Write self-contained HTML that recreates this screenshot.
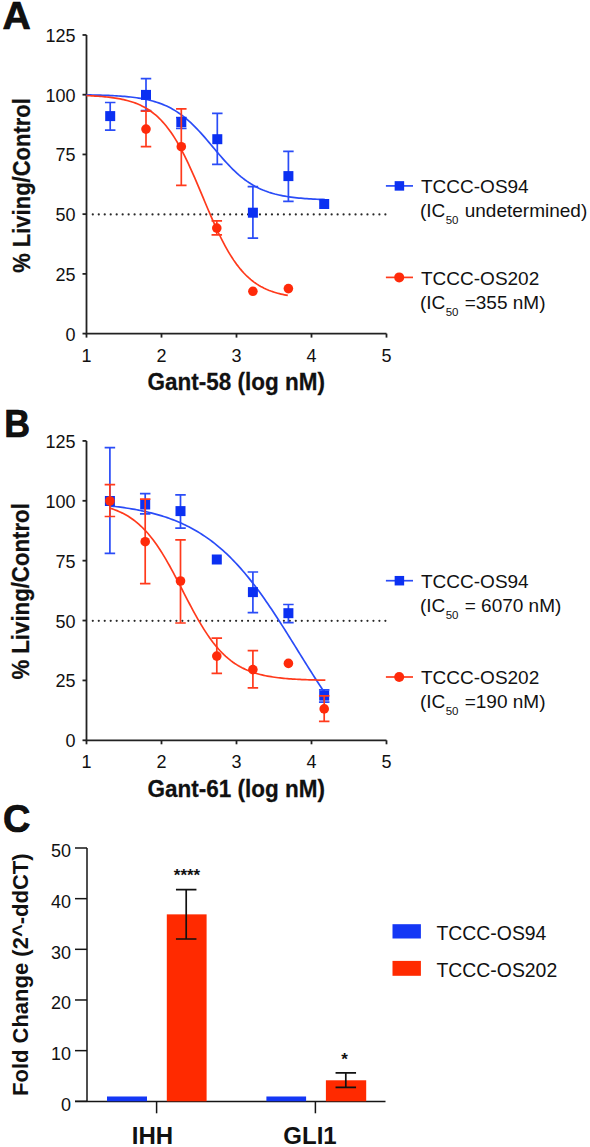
<!DOCTYPE html>
<html><head><meta charset="utf-8"><style>
html,body{margin:0;padding:0;background:#fff;}
svg{display:block;}
text{font-family:"Liberation Sans",sans-serif;fill:#111;}
.tk{font-size:18px;}
.tkc{font-size:18px;}
.ttl{font-size:22px;font-weight:bold;stroke:#111;stroke-width:0.25px;}
.ttlx{font-size:22.5px;font-weight:bold;stroke:#111;stroke-width:0.25px;}
.ttlc{font-size:24px;font-weight:bold;}
.ttlc2{font-size:22px;font-weight:bold;}
.pl{font-size:38px;font-weight:bold;stroke:#000;stroke-width:0.7px;}
.lg{font-size:19px;}
.sub{font-size:11.5px;}
.ast{font-size:17px;font-weight:bold;}
</style></head><body>
<svg width="590" height="1147" viewBox="0 0 590 1147">
<rect width="590" height="1147" fill="#fff"/>
<text transform="translate(2.6 29) scale(1.03 1)" class="pl">A</text>
<path d="M86.5 35.0V333.6H386.5" stroke="#222" stroke-width="1.8" fill="none"/>
<path d="M82.5 333.60H86.5" stroke="#222" stroke-width="1.8"/>
<text x="75.5" y="340.6" text-anchor="end" class="tk">0</text>
<path d="M82.5 273.88H86.5" stroke="#222" stroke-width="1.8"/>
<text x="75.5" y="280.9" text-anchor="end" class="tk">25</text>
<path d="M82.5 214.15H86.5" stroke="#222" stroke-width="1.8"/>
<text x="75.5" y="221.2" text-anchor="end" class="tk">50</text>
<path d="M82.5 154.43H86.5" stroke="#222" stroke-width="1.8"/>
<text x="75.5" y="161.4" text-anchor="end" class="tk">75</text>
<path d="M82.5 94.70H86.5" stroke="#222" stroke-width="1.8"/>
<text x="75.5" y="101.7" text-anchor="end" class="tk">100</text>
<path d="M82.5 34.98H86.5" stroke="#222" stroke-width="1.8"/>
<text x="75.5" y="42.0" text-anchor="end" class="tk">125</text>
<path d="M86.50 333.6V337.6" stroke="#222" stroke-width="1.8"/>
<text x="86.50" y="361.7" text-anchor="middle" class="tk">1</text>
<path d="M161.50 333.6V337.6" stroke="#222" stroke-width="1.8"/>
<text x="161.50" y="361.7" text-anchor="middle" class="tk">2</text>
<path d="M236.50 333.6V337.6" stroke="#222" stroke-width="1.8"/>
<text x="236.50" y="361.7" text-anchor="middle" class="tk">3</text>
<path d="M311.50 333.6V337.6" stroke="#222" stroke-width="1.8"/>
<text x="311.50" y="361.7" text-anchor="middle" class="tk">4</text>
<path d="M386.50 333.6V337.6" stroke="#222" stroke-width="1.8"/>
<text x="386.50" y="361.7" text-anchor="middle" class="tk">5</text>
<text transform="translate(236.3 389.5) scale(1 1.06)" text-anchor="middle" class="ttlx">Gant-58 (log nM)</text>
<line x1="92.8" y1="214.45" x2="386" y2="214.45" stroke="#2a2a2a" stroke-width="2.2" stroke-linecap="round" stroke-dasharray="0.01 5.961"/>
<text transform="translate(29.9 185.5) rotate(-90) scale(1 1.05)" text-anchor="middle" class="ttl">% Living/Control</text>
<polyline points="86.50,94.87 88.50,94.91 90.51,94.94 92.51,94.98 94.52,95.03 96.52,95.07 98.53,95.12 100.53,95.18 102.53,95.24 104.54,95.31 106.54,95.38 108.55,95.46 110.55,95.55 112.55,95.65 114.56,95.75 116.56,95.87 118.57,95.99 120.57,96.13 122.58,96.28 124.58,96.44 126.58,96.62 128.59,96.81 130.59,97.02 132.60,97.25 134.60,97.50 136.61,97.77 138.61,98.07 140.61,98.39 142.62,98.74 144.62,99.12 146.63,99.54 148.63,99.99 150.63,100.47 152.64,101.00 154.64,101.57 156.65,102.19 158.65,102.86 160.66,103.58 162.66,104.35 164.66,105.19 166.67,106.08 168.67,107.05 170.68,108.08 172.68,109.18 174.68,110.36 176.69,111.61 178.69,112.95 180.70,114.36 182.70,115.86 184.71,117.44 186.71,119.10 188.71,120.84 190.72,122.67 192.72,124.57 194.73,126.55 196.73,128.60 198.74,130.72 200.74,132.90 202.74,135.13 204.75,137.41 206.75,139.73 208.76,142.08 210.76,144.45 212.76,146.84 214.77,149.22 216.77,151.60 218.78,153.96 220.78,156.29 222.79,158.59 224.79,160.85 226.79,163.05 228.80,165.20 230.80,167.28 232.81,169.29 234.81,171.23 236.82,173.09 238.82,174.87 240.82,176.57 242.83,178.18 244.83,179.71 246.84,181.16 248.84,182.53 250.84,183.82 252.85,185.03 254.85,186.17 256.86,187.23 258.86,188.23 260.87,189.15 262.87,190.02 264.87,190.82 266.88,191.56 268.88,192.25 270.89,192.89 272.89,193.48 274.89,194.03 276.90,194.53 278.90,195.00 280.91,195.43 282.91,195.82 284.92,196.19 286.92,196.52 288.92,196.83 290.93,197.11 292.93,197.37 294.94,197.61 296.94,197.83 298.95,198.03 300.95,198.22 302.95,198.38 304.96,198.54 306.96,198.68 308.97,198.81 310.97,198.93 312.97,199.04 314.98,199.14 316.98,199.23 318.99,199.31 320.99,199.39 323.00,199.46 325.00,199.52" fill="none" stroke="#2a4cf7" stroke-width="1.7"/>
<path d="M110.20 102.50V130.20M104.95 102.50H115.45M104.95 130.20H115.45" stroke="#2a4cf7" stroke-width="1.7" fill="none"/>
<rect x="105.20" y="111.10" width="10" height="10" fill="#0b30f2"/>
<path d="M146.00 78.70V110.70M140.75 78.70H151.25M140.75 110.70H151.25" stroke="#2a4cf7" stroke-width="1.7" fill="none"/>
<rect x="141.00" y="89.90" width="10" height="10" fill="#0b30f2"/>
<path d="M181.30 117.50V128.30M176.05 117.50H186.55M176.05 128.30H186.55" stroke="#2a4cf7" stroke-width="1.7" fill="none"/>
<rect x="176.30" y="117.00" width="10" height="10" fill="#0b30f2"/>
<path d="M217.30 113.40V164.40M212.05 113.40H222.55M212.05 164.40H222.55" stroke="#2a4cf7" stroke-width="1.7" fill="none"/>
<rect x="212.30" y="134.20" width="10" height="10" fill="#0b30f2"/>
<path d="M252.90 186.60V238.20M247.65 186.60H258.15M247.65 238.20H258.15" stroke="#2a4cf7" stroke-width="1.7" fill="none"/>
<rect x="247.90" y="207.70" width="10" height="10" fill="#0b30f2"/>
<path d="M288.40 151.40V201.30M283.15 151.40H293.65M283.15 201.30H293.65" stroke="#2a4cf7" stroke-width="1.7" fill="none"/>
<rect x="283.40" y="171.10" width="10" height="10" fill="#0b30f2"/>
<rect x="319.20" y="199.00" width="10" height="10" fill="#0b30f2"/>
<polyline points="86.50,95.60 88.19,95.68 89.88,95.76 91.57,95.84 93.27,95.93 94.96,96.03 96.65,96.14 98.34,96.25 100.03,96.38 101.72,96.52 103.42,96.66 105.11,96.82 106.80,96.99 108.49,97.18 110.18,97.37 111.87,97.59 113.57,97.82 115.26,98.07 116.95,98.35 118.64,98.64 120.33,98.95 122.02,99.30 123.72,99.66 125.41,100.06 127.10,100.49 128.79,100.95 130.48,101.44 132.17,101.98 133.86,102.55 135.56,103.17 137.25,103.83 138.94,104.55 140.63,105.31 142.32,106.14 144.01,107.02 145.71,107.97 147.40,108.98 149.09,110.07 150.78,111.23 152.47,112.47 154.16,113.79 155.86,115.20 157.55,116.71 159.24,118.31 160.93,120.01 162.62,121.82 164.31,123.73 166.01,125.76 167.70,127.90 169.39,130.15 171.08,132.53 172.77,135.03 174.46,137.65 176.15,140.39 177.85,143.26 179.54,146.25 181.23,149.36 182.92,152.58 184.61,155.92 186.30,159.36 188.00,162.91 189.69,166.55 191.38,170.28 193.07,174.08 194.76,177.95 196.45,181.88 198.15,185.86 199.84,189.87 201.53,193.90 203.22,197.94 204.91,201.98 206.60,206.01 208.29,210.00 209.99,213.96 211.68,217.86 213.37,221.70 215.06,225.47 216.75,229.16 218.44,232.75 220.14,236.25 221.83,239.64 223.52,242.93 225.21,246.09 226.90,249.14 228.59,252.07 230.29,254.88 231.98,257.56 233.67,260.13 235.36,262.56 237.05,264.88 238.74,267.08 240.44,269.17 242.13,271.14 243.82,273.00 245.51,274.75 247.20,276.41 248.89,277.96 250.58,279.42 252.28,280.79 253.97,282.07 255.66,283.27 257.35,284.40 259.04,285.45 260.73,286.43 262.43,287.34 264.12,288.20 265.81,288.99 267.50,289.73 269.19,290.42 270.88,291.06 272.58,291.66 274.27,292.21 275.96,292.73 277.65,293.21 279.34,293.65 281.03,294.06 282.73,294.44 284.42,294.80 286.11,295.13 287.80,295.43" fill="none" stroke="#ff3a1c" stroke-width="1.7"/>
<path d="M146.00 111.20V146.70M140.75 111.20H151.25M140.75 146.70H151.25" stroke="#ff3a1c" stroke-width="1.7" fill="none"/>
<circle cx="146.00" cy="129.10" r="4.8" fill="#ff2a0a"/>
<path d="M181.30 108.80V185.30M176.05 108.80H186.55M176.05 185.30H186.55" stroke="#ff3a1c" stroke-width="1.7" fill="none"/>
<circle cx="181.30" cy="146.70" r="4.8" fill="#ff2a0a"/>
<path d="M216.80 220.80V234.90M211.55 220.80H222.05M211.55 234.90H222.05" stroke="#ff3a1c" stroke-width="1.7" fill="none"/>
<circle cx="216.80" cy="228.10" r="4.8" fill="#ff2a0a"/>
<circle cx="252.90" cy="291.30" r="4.8" fill="#ff2a0a"/>
<circle cx="288.40" cy="288.60" r="4.8" fill="#ff2a0a"/>
<path d="M385.9 185.90H413" stroke="#2a4cf7" stroke-width="1.7"/>
<rect x="394.65" y="181.15" width="9.5" height="9.5" fill="#0b30f2"/>
<text x="421" y="192.7" class="lg">TCCC-OS94</text>
<text x="420" y="216.8" class="lg">(IC<tspan class="sub" dy="6.8" dx="0.3">50</tspan><tspan dy="-6.8" dx="1"> undetermined)</tspan></text>
<path d="M385.9 277.40H413" stroke="#ff3a1c" stroke-width="1.7"/>
<circle cx="399.20" cy="277.40" r="5" fill="#ff2a0a"/>
<text x="421" y="284.7" class="lg">TCCC-OS202</text>
<text x="420" y="308.9" class="lg">(IC<tspan class="sub" dy="6.8" dx="0.3">50</tspan><tspan dy="-6.8" dx="1"> =355 nM)</tspan></text>
<text transform="translate(4.3 437.3) scale(0.94 1)" class="pl">B</text>
<path d="M86.5 440.9V740.3H386.5" stroke="#222" stroke-width="1.8" fill="none"/>
<path d="M82.5 740.30H86.5" stroke="#222" stroke-width="1.8"/>
<text x="75.5" y="747.3" text-anchor="end" class="tk">0</text>
<path d="M82.5 680.42H86.5" stroke="#222" stroke-width="1.8"/>
<text x="75.5" y="687.4" text-anchor="end" class="tk">25</text>
<path d="M82.5 620.55H86.5" stroke="#222" stroke-width="1.8"/>
<text x="75.5" y="627.5" text-anchor="end" class="tk">50</text>
<path d="M82.5 560.67H86.5" stroke="#222" stroke-width="1.8"/>
<text x="75.5" y="567.7" text-anchor="end" class="tk">75</text>
<path d="M82.5 500.80H86.5" stroke="#222" stroke-width="1.8"/>
<text x="75.5" y="507.8" text-anchor="end" class="tk">100</text>
<path d="M82.5 440.92H86.5" stroke="#222" stroke-width="1.8"/>
<text x="75.5" y="447.9" text-anchor="end" class="tk">125</text>
<path d="M86.50 740.3V744.3" stroke="#222" stroke-width="1.8"/>
<text x="86.50" y="768.1" text-anchor="middle" class="tk">1</text>
<path d="M161.50 740.3V744.3" stroke="#222" stroke-width="1.8"/>
<text x="161.50" y="768.1" text-anchor="middle" class="tk">2</text>
<path d="M236.50 740.3V744.3" stroke="#222" stroke-width="1.8"/>
<text x="236.50" y="768.1" text-anchor="middle" class="tk">3</text>
<path d="M311.50 740.3V744.3" stroke="#222" stroke-width="1.8"/>
<text x="311.50" y="768.1" text-anchor="middle" class="tk">4</text>
<path d="M386.50 740.3V744.3" stroke="#222" stroke-width="1.8"/>
<text x="386.50" y="768.1" text-anchor="middle" class="tk">5</text>
<text transform="translate(236.3 796.9) scale(1 1.06)" text-anchor="middle" class="ttlx">Gant-61 (log nM)</text>
<line x1="92.8" y1="620.85" x2="386" y2="620.85" stroke="#2a2a2a" stroke-width="2.2" stroke-linecap="round" stroke-dasharray="0.01 5.961"/>
<text transform="translate(29.4 591.4) rotate(-90) scale(1.01 1.05)" text-anchor="middle" class="ttl">% Living/Control</text>
<polyline points="109.75,505.90 111.55,506.10 113.34,506.30 115.14,506.51 116.93,506.73 118.73,506.96 120.53,507.20 122.32,507.45 124.12,507.70 125.92,507.97 127.71,508.24 129.51,508.53 131.30,508.82 133.10,509.13 134.90,509.45 136.69,509.78 138.49,510.12 140.29,510.48 142.08,510.85 143.88,511.23 145.67,511.63 147.47,512.04 149.27,512.46 151.06,512.91 152.86,513.36 154.66,513.84 156.45,514.33 158.25,514.84 160.04,515.37 161.84,515.91 163.64,516.48 165.43,517.06 167.23,517.67 169.03,518.30 170.82,518.95 172.62,519.62 174.41,520.32 176.21,521.03 178.01,521.78 179.80,522.55 181.60,523.34 183.39,524.16 185.19,525.01 186.99,525.89 188.78,526.80 190.58,527.73 192.38,528.70 194.17,529.70 195.97,530.72 197.76,531.79 199.56,532.88 201.36,534.01 203.15,535.17 204.95,536.37 206.75,537.60 208.54,538.87 210.34,540.18 212.13,541.53 213.93,542.91 215.73,544.34 217.52,545.80 219.32,547.31 221.12,548.85 222.91,550.44 224.71,552.06 226.50,553.73 228.30,555.45 230.10,557.20 231.89,559.00 233.69,560.84 235.49,562.72 237.28,564.65 239.08,566.62 240.87,568.64 242.67,570.69 244.47,572.79 246.26,574.94 248.06,577.12 249.86,579.35 251.65,581.62 253.45,583.92 255.24,586.27 257.04,588.66 258.84,591.09 260.63,593.55 262.43,596.05 264.22,598.59 266.02,601.16 267.82,603.76 269.61,606.40 271.41,609.06 273.21,611.75 275.00,614.47 276.80,617.22 278.59,619.99 280.39,622.78 282.19,625.59 283.98,628.42 285.78,631.26 287.58,634.12 289.37,636.99 291.17,639.87 292.96,642.76 294.76,645.65 296.56,648.54 298.35,651.44 300.15,654.33 301.95,657.23 303.74,660.11 305.54,662.99 307.33,665.86 309.13,668.72 310.93,671.56 312.72,674.39 314.52,677.19 316.32,679.98 318.11,682.75 319.91,685.49 321.70,688.21 323.50,690.90" fill="none" stroke="#2a4cf7" stroke-width="1.7"/>
<path d="M109.90 447.60V553.40M104.65 447.60H115.15M104.65 553.40H115.15" stroke="#2a4cf7" stroke-width="1.7" fill="none"/>
<rect x="104.90" y="496.00" width="10" height="10" fill="#0b30f2"/>
<path d="M145.20 493.70V513.80M139.95 493.70H150.45M139.95 513.80H150.45" stroke="#2a4cf7" stroke-width="1.7" fill="none"/>
<rect x="140.20" y="499.50" width="10" height="10" fill="#0b30f2"/>
<path d="M180.50 494.80V528.10M175.25 494.80H185.75M175.25 528.10H185.75" stroke="#2a4cf7" stroke-width="1.7" fill="none"/>
<rect x="175.50" y="506.10" width="10" height="10" fill="#0b30f2"/>
<rect x="211.80" y="554.50" width="10" height="10" fill="#0b30f2"/>
<path d="M252.90 572.00V612.70M247.65 572.00H258.15M247.65 612.70H258.15" stroke="#2a4cf7" stroke-width="1.7" fill="none"/>
<rect x="247.90" y="587.10" width="10" height="10" fill="#0b30f2"/>
<path d="M288.40 604.50V622.70M283.15 604.50H293.65M283.15 622.70H293.65" stroke="#2a4cf7" stroke-width="1.7" fill="none"/>
<rect x="283.40" y="608.20" width="10" height="10" fill="#0b30f2"/>
<path d="M324.20 689.90V702.10M318.95 689.90H329.45M318.95 702.10H329.45" stroke="#2a4cf7" stroke-width="1.7" fill="none"/>
<rect x="319.20" y="690.60" width="10" height="10" fill="#0b30f2"/>
<polyline points="109.75,508.10 111.56,508.67 113.37,509.29 115.19,509.95 117.00,510.66 118.81,511.42 120.62,512.24 122.43,513.11 124.25,514.04 126.06,515.04 127.87,516.10 129.68,517.24 131.49,518.45 133.31,519.75 135.12,521.12 136.93,522.58 138.74,524.13 140.55,525.77 142.37,527.50 144.18,529.34 145.99,531.27 147.80,533.31 149.61,535.45 151.43,537.70 153.24,540.06 155.05,542.52 156.86,545.08 158.67,547.75 160.49,550.52 162.30,553.39 164.11,556.35 165.92,559.41 167.73,562.55 169.55,565.76 171.36,569.05 173.17,572.40 174.98,575.80 176.79,579.25 178.61,582.73 180.42,586.23 182.23,589.75 184.04,593.27 185.85,596.79 187.66,600.28 189.48,603.75 191.29,607.18 193.10,610.55 194.91,613.87 196.72,617.13 198.54,620.31 200.35,623.40 202.16,626.41 203.97,629.33 205.78,632.15 207.60,634.88 209.41,637.49 211.22,640.01 213.03,642.42 214.84,644.72 216.66,646.91 218.47,649.01 220.28,650.99 222.09,652.88 223.90,654.66 225.72,656.35 227.53,657.95 229.34,659.45 231.15,660.87 232.96,662.20 234.78,663.46 236.59,664.63 238.40,665.73 240.21,666.77 242.02,667.73 243.84,668.63 245.65,669.48 247.46,670.27 249.27,671.00 251.08,671.69 252.90,672.33 254.71,672.92 256.52,673.47 258.33,673.99 260.14,674.47 261.96,674.91 263.77,675.33 265.58,675.71 267.39,676.07 269.20,676.40 271.02,676.71 272.83,676.99 274.64,677.26 276.45,677.50 278.26,677.73 280.08,677.94 281.89,678.14 283.70,678.32 285.51,678.48 287.32,678.64 289.14,678.78 290.95,678.92 292.76,679.04 294.57,679.15 296.38,679.26 298.20,679.36 300.01,679.45 301.82,679.53 303.63,679.61 305.44,679.68 307.26,679.75 309.07,679.81 310.88,679.87 312.69,679.92 314.50,679.97 316.32,680.01 318.13,680.06 319.94,680.09 321.75,680.13 323.56,680.16 325.38,680.19" fill="none" stroke="#ff3a1c" stroke-width="1.7"/>
<path d="M109.90 484.70V516.50M104.65 484.70H115.15M104.65 516.50H115.15" stroke="#ff3a1c" stroke-width="1.7" fill="none"/>
<circle cx="109.90" cy="501.00" r="4.8" fill="#ff2a0a"/>
<path d="M145.20 499.10V583.70M139.95 499.10H150.45M139.95 583.70H150.45" stroke="#ff3a1c" stroke-width="1.7" fill="none"/>
<circle cx="145.20" cy="541.70" r="4.8" fill="#ff2a0a"/>
<path d="M180.50 539.80V623.00M175.25 539.80H185.75M175.25 623.00H185.75" stroke="#ff3a1c" stroke-width="1.7" fill="none"/>
<circle cx="180.50" cy="581.00" r="4.8" fill="#ff2a0a"/>
<path d="M216.80 638.20V673.40M211.55 638.20H222.05M211.55 673.40H222.05" stroke="#ff3a1c" stroke-width="1.7" fill="none"/>
<circle cx="216.80" cy="656.10" r="4.8" fill="#ff2a0a"/>
<path d="M252.90 650.60V687.80M247.65 650.60H258.15M247.65 687.80H258.15" stroke="#ff3a1c" stroke-width="1.7" fill="none"/>
<circle cx="252.90" cy="669.60" r="4.8" fill="#ff2a0a"/>
<circle cx="288.40" cy="663.40" r="4.8" fill="#ff2a0a"/>
<path d="M324.20 695.90V721.40M318.95 695.90H329.45M318.95 721.40H329.45" stroke="#ff3a1c" stroke-width="1.7" fill="none"/>
<circle cx="324.20" cy="708.90" r="4.8" fill="#ff2a0a"/>
<path d="M385.9 580.70H413" stroke="#2a4cf7" stroke-width="1.7"/>
<rect x="394.65" y="575.95" width="9.5" height="9.5" fill="#0b30f2"/>
<text x="421" y="587.5" class="lg">TCCC-OS94</text>
<text x="420" y="611.7" class="lg">(IC<tspan class="sub" dy="6.8" dx="0.3">50</tspan><tspan dy="-6.8" dx="1"> = 6070 nM)</tspan></text>
<path d="M385.9 677.00H413" stroke="#ff3a1c" stroke-width="1.7"/>
<circle cx="399.20" cy="677.00" r="5" fill="#ff2a0a"/>
<text x="421" y="684.3" class="lg">TCCC-OS202</text>
<text x="420" y="708.4" class="lg">(IC<tspan class="sub" dy="6.8" dx="0.3">50</tspan><tspan dy="-6.8" dx="1"> =190 nM)</tspan></text>
<text x="3" y="831.5" class="pl">C</text>
<path d="M87 847.9V1101.3" stroke="#151515" stroke-width="1.5" fill="none"/>
<path d="M75 1101.6H385.5" stroke="#151515" stroke-width="1.5" fill="none"/>
<path d="M75 1101.30H87" stroke="#151515" stroke-width="1.5"/>
<text x="71" y="1110.5" text-anchor="end" class="tkc">0</text>
<path d="M75 1050.64H87" stroke="#151515" stroke-width="1.5"/>
<text x="71" y="1059.8" text-anchor="end" class="tkc">10</text>
<path d="M75 999.98H87" stroke="#151515" stroke-width="1.5"/>
<text x="71" y="1009.2" text-anchor="end" class="tkc">20</text>
<path d="M75 949.32H87" stroke="#151515" stroke-width="1.5"/>
<text x="71" y="958.5" text-anchor="end" class="tkc">30</text>
<path d="M75 898.66H87" stroke="#151515" stroke-width="1.5"/>
<text x="71" y="907.9" text-anchor="end" class="tkc">40</text>
<path d="M75 848.00H87" stroke="#151515" stroke-width="1.5"/>
<text x="71" y="857.2" text-anchor="end" class="tkc">50</text>
<path d="M156.6 1101.3V1113.3" stroke="#151515" stroke-width="1.5"/>
<path d="M315.4 1101.3V1113.3" stroke="#151515" stroke-width="1.5"/>
<text x="152.5" y="1143.5" text-anchor="middle" class="ttlc">IHH</text>
<text x="310" y="1143.5" text-anchor="middle" class="ttlc">GLI1</text>
<text transform="translate(28 974.7) rotate(-90)" text-anchor="middle" class="ttlc2">Fold Change (2^-ddCT)</text>
<rect x="107.0" y="1096.49" width="40.0" height="4.81" fill="#1437f5"/>
<rect x="166.8" y="914.36" width="39.8" height="186.94" fill="#ff2a00"/>
<rect x="266.4" y="1096.49" width="39.7" height="4.81" fill="#1437f5"/>
<rect x="325.9" y="1080.28" width="40.3" height="21.02" fill="#ff2a00"/>
<path d="M186.20 889.70V939.00M175.95 889.70H196.45M175.95 939.00H196.45" stroke="#111" stroke-width="1.7" fill="none"/>
<path d="M345.80 1072.90V1087.30M335.55 1072.90H356.05M335.55 1087.30H356.05" stroke="#111" stroke-width="1.7" fill="none"/>
<text x="187" y="881" text-anchor="middle" class="ast">****</text>
<text x="344.5" y="1065" text-anchor="middle" class="ast">*</text>
<rect x="392.5" y="924.2" width="28.4" height="14.3" fill="#1437f5"/>
<rect x="392.5" y="960.9" width="28.4" height="14.9" fill="#ff2a00"/>
<text x="436.5" y="940.2" class="lg" style="font-size:19.4px">TCCC-OS94</text>
<text x="436.5" y="976.8" class="lg" style="font-size:19.4px">TCCC-OS202</text>
</svg>
</body></html>
